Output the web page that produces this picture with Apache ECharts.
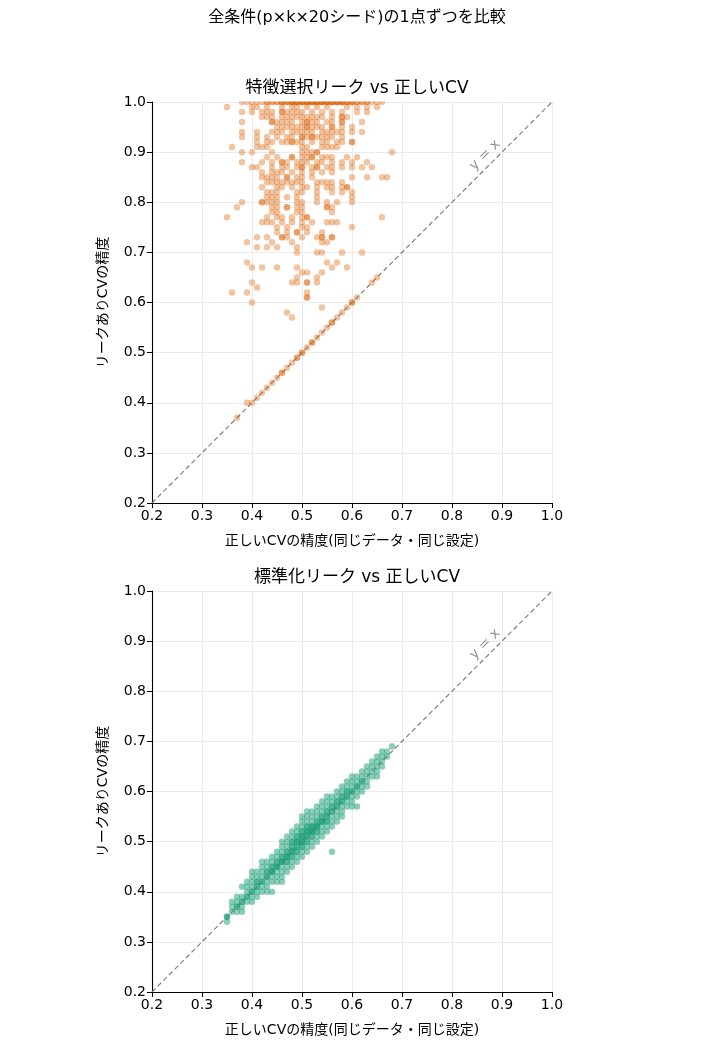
<!DOCTYPE html>
<html>
<head>
<meta charset="utf-8">
<script src="https://cdn.jsdelivr.net/npm/echarts@6/dist/echarts.min.js"></script>
<style>
  html, body { margin: 0; padding: 0; background: #fff; }
  #main { width: 704px; height: 1056px; }
</style>
</head>
<body>
<div id="main"></div>
<script>
// 値はすべて%（0.01刻み）で持つ
var axisTicks = [0.2, 0.3, 0.4, 0.5, 0.6, 0.7, 0.8, 0.9, 1.0];

// 特徴選択リーク: [リークありCVの精度, 正しいCVの精度のリスト]
var featRows = [
  [100, [38, 39, 40, 41, 42, 43, 44, 45, 46, 47, 48, 49, 50, 51, 52, 53, 54, 55, 56, 57, 58, 59, 60, 61, 62, 63, 64, 65, 66,
         43, 44, 45, 46, 47, 48, 49, 50, 51, 52, 53, 54, 55, 56, 57, 58, 59, 60, 61, 62, 63,
         46, 47, 48, 49, 50, 51, 52, 53, 54, 55, 56, 57, 58, 59, 60,
         48, 49, 50, 51, 52, 53, 54, 55, 56, 57, 58]],
  [99, [35, 40, 41, 43, 46, 48, 49, 51, 53, 55, 59, 61, 63, 65]],
  [98, [38, 40, 42, 43, 44, 46, 46, 47, 48, 49, 50, 52, 54, 56, 58, 61, 63]],
  [97, [42, 43, 44, 46, 47, 48, 49, 50, 51, 52, 53, 54, 56, 58, 58, 59]],
  [96, [38, 44, 44, 45, 46, 47, 48, 50, 51, 51, 52, 53, 55, 56, 58, 58, 62]],
  [95, [45, 46, 47, 48, 49, 50, 51, 51, 52, 53, 54, 56, 56, 58, 60]],
  [94, [38, 41, 44, 45, 46, 48, 49, 50, 51, 52, 54, 55, 56, 57, 58, 60, 62]],
  [93, [38, 41, 43, 45, 47, 48, 50, 50, 51, 52, 52, 53, 54, 55, 56, 58]],
  [92, [41, 43, 44, 46, 47, 48, 48, 49, 50, 52, 54, 55, 57, 58, 60, 60]],
  [91, [36, 41, 42, 43, 50, 51, 54, 55, 56, 57]],
  [90, [38, 40, 44, 50, 51, 52, 53, 53, 68]],
  [89, [43, 45, 48, 48, 50, 51, 52, 52, 54, 55, 56, 59, 61]],
  [88, [38, 42, 44, 46, 46, 47, 49, 50, 51, 53, 54, 56, 58, 60, 63]],
  [87, [40, 41, 44, 46, 47, 49, 50, 50, 52, 53, 53, 55, 56, 58, 60, 62, 64]],
  [86, [42, 44, 45, 46, 48, 50, 52, 54, 56]],
  [85, [42, 43, 44, 45, 47, 47, 49, 50, 52, 60, 63, 66, 67]],
  [84, [43, 44, 45, 46, 47, 48, 49, 50, 53, 54, 55, 56, 58]],
  [83, [42, 45, 46, 48, 50, 51, 53, 55, 56, 58, 59, 59]],
  [82, [43, 44, 45, 49, 50, 53, 56, 58, 60]],
  [81, [43, 44, 45, 47, 49, 53, 60]],
  [80, [38, 42, 42, 43, 44, 45, 49, 50, 53, 55, 57, 60]],
  [79, [37, 44, 45, 47, 47, 49, 50, 55, 55, 56]],
  [78, [44, 45, 49, 50, 56]],
  [77, [35, 43, 45, 46, 48, 50, 51, 51, 66]],
  [76, [42, 43, 44, 46, 48, 50, 52, 55, 56, 57]],
  [75, [45, 47, 50, 51, 60]],
  [74, [45, 47, 49, 49, 51, 54]],
  [73, [41, 43, 46, 46, 47, 50, 53, 54, 54, 56, 56]],
  [72, [39, 44, 48, 54, 55]],
  [71, [41, 43, 45, 49]],
  [70, [49, 53, 54, 58, 62]],
  [68, [39, 55, 57]],
  [67, [40, 42, 45, 49, 56, 59]],
  [66, [50, 51, 54]],
  [65, [49, 53, 65]],
  [64, [40, 48, 49, 51, 51, 53, 64]],
  [63, [41]],
  [62, [36, 39, 51]],
  [61, [51, 51, 61]],
  [60, [40, 60, 60]],
  [59, [54, 59]],
  [58, [47, 58]],
  [57, [48, 57]],
  [56, [56, 56]],
  [55, [55]],
  [54, [54]],
  [53, [53]],
  [52, [52, 52]],
  [51, [51]],
  [50, [50, 50]],
  [49, [49, 49]],
  [48, [48]],
  [47, [47]],
  [46, [46, 46]],
  [45, [45]],
  [44, [44]],
  [43, [43]],
  [42, [42]],
  [41, [41]],
  [40, [40, 39]],
  [37, [37]]
];

// 標準化リーク: [正しいCVの精度, リークありCVの精度のリスト]
var stdCols = [
  [35, [34, 35, 35]],
  [36, [36, 38, 37]],
  [37, [37, 38, 36, 37, 39]],
  [38, [37, 39, 41, 38, 38, 36]],
  [39, [39, 40, 41, 38, 39, 42]],
  [40, [40, 41, 44, 43, 39, 40, 42, 38]],
  [41, [42, 42, 41, 40, 43, 44, 41, 39]],
  [42, [42, 43, 45, 41, 40, 42, 44, 46]],
  [43, [43, 44, 46, 42, 41, 44, 43, 45, 40]],
  [44, [44, 45, 43, 40, 46, 47, 44, 45, 42, 44]],
  [45, [45, 46, 44, 47, 43, 42, 45, 46, 48, 45]],
  [46, [46, 47, 45, 48, 50, 44, 42, 46, 47, 43, 49, 46]],
  [47, [47, 48, 46, 49, 45, 48, 50, 47, 46, 44, 51, 47]],
  [48, [48, 49, 47, 50, 46, 49, 51, 45, 48, 47, 50, 52, 48]],
  [49, [49, 50, 48, 51, 47, 50, 52, 46, 53, 49, 48, 51, 50]],
  [50, [50, 51, 49, 52, 48, 51, 50, 53, 47, 54, 50, 49, 52, 55, 51]],
  [51, [51, 52, 50, 53, 49, 52, 54, 48, 56, 51, 50, 53, 55, 52]],
  [52, [52, 53, 51, 54, 50, 52, 55, 49, 53, 52, 51, 56, 53]],
  [53, [53, 54, 52, 55, 51, 53, 56, 50, 57, 53, 54, 52]],
  [54, [54, 55, 53, 56, 52, 54, 58, 51, 57, 55, 54]],
  [55, [55, 56, 54, 57, 53, 55, 52, 58, 56, 54, 59]],
  [56, [56, 57, 55, 58, 54, 48, 59, 56, 57, 53]],
  [57, [57, 58, 56, 59, 55, 60, 57, 58, 54]],
  [58, [58, 59, 57, 60, 56, 58, 61, 59, 55]],
  [59, [59, 60, 58, 61, 57, 62, 59, 60]],
  [60, [60, 61, 59, 62, 58, 63, 60, 57]],
  [61, [61, 62, 60, 57, 63, 59, 61]],
  [62, [62, 63, 61, 60, 64, 62]],
  [63, [63, 64, 62, 65, 61]],
  [64, [64, 65, 63, 66]],
  [65, [65, 67, 63, 66, 64]],
  [66, [66, 67, 65, 68]],
  [67, [68, 67]],
  [68, [69]]
];

var featData = [];
featRows.forEach(function (r) {
  r[1].forEach(function (x) { featData.push([x / 100, r[0] / 100]); });
});
var stdData = [];
stdCols.forEach(function (c) {
  c[1].forEach(function (y) { stdData.push([c[0] / 100, y / 100]); });
});

var font = '"DejaVu Sans", "Noto Sans CJK JP", sans-serif';
var xName = '正しいCVの精度(同じデータ・同じ設定)';
var yName = 'リークありCVの精度';

function makeAxis(idx, name, isY) {
  return {
    type: 'value',
    gridIndex: idx,
    min: axisTicks[0],
    max: axisTicks[axisTicks.length - 1],
    interval: 0.1,
    name: name,
    nameLocation: 'middle',
    nameGap: isY ? 42 : 31,
    nameTextStyle: { fontFamily: font, fontSize: 14, color: '#000' },
    axisLine: { show: true, lineStyle: { color: '#000', width: 1.1 } },
    axisTick: { show: true, length: 5, lineStyle: { color: '#000' } },
    axisLabel: {
      fontFamily: font, fontSize: 14, color: '#000', margin: 6,
      formatter: function (v) { return v.toFixed(1); }
    },
    splitLine: { show: true, lineStyle: { color: '#ebebeb', width: 1 } }
  };
}

function diagSeries(idx) {
  return [{
    type: 'line',
    xAxisIndex: idx, yAxisIndex: idx,
    data: [[0.2, 0.2], [1.0, 1.0]],
    symbol: 'none',
    silent: true,
    lineStyle: { color: '#808080', width: 1.2, type: [5, 3] },
    z: 1
  }, {
    type: 'scatter',
    xAxisIndex: idx, yAxisIndex: idx,
    data: [[0.866, 0.894]],
    symbolSize: 0,
    silent: true,
    label: {
      show: true, position: 'inside', rotate: 45,
      formatter: 'y = x',
      fontFamily: font, fontSize: 14, color: '#7a7a7a'
    },
    z: 3
  }];
}

var myChart = echarts.init(document.getElementById('main'));

var option = {
  backgroundColor: '#fff',
  animation: false,
  title: [
    { text: '全条件(p×k×20シード)の1点ずつを比較', left: 352, textAlign: 'center', top: 5,
      textStyle: { fontFamily: font, fontSize: 16, fontWeight: 'normal', color: '#000' } },
    { text: '特徴選択リーク vs 正しいCV', left: 352, textAlign: 'center', top: 75,
      textStyle: { fontFamily: font, fontSize: 17, fontWeight: 'normal', color: '#000' } },
    { text: '標準化リーク vs 正しいCV', left: 352, textAlign: 'center', top: 564,
      textStyle: { fontFamily: font, fontSize: 17, fontWeight: 'normal', color: '#000' } }
  ],
  grid: [
    { left: 152, top: 102, width: 400, height: 401 },
    { left: 152, top: 591, width: 400, height: 401 }
  ],
  xAxis: [makeAxis(0, xName, false), makeAxis(1, xName, false)],
  yAxis: [makeAxis(0, yName, true), makeAxis(1, yName, true)],
  // 軸の外にはみ出した点を隠す（上端の1.0の帯）
  graphic: [{
    type: 'rect', left: 153, top: 94, z: 100, silent: true,
    shape: { width: 405, height: 7.5 },
    style: { fill: '#fff' }
  }],
  series: diagSeries(0).concat(diagSeries(1)).concat([
    {
      type: 'scatter',
      xAxisIndex: 0, yAxisIndex: 0,
      data: featData,
      symbolSize: 6.5,
      itemStyle: { color: '#d95f02', opacity: 0.37 },
      z: 2
    },
    {
      type: 'scatter',
      xAxisIndex: 1, yAxisIndex: 1,
      data: stdData,
      symbolSize: 6.5,
      itemStyle: { color: '#1b9e77', opacity: 0.5 },
      z: 2
    }
  ])
};

myChart.setOption(option);
</script>
</body>
</html>
